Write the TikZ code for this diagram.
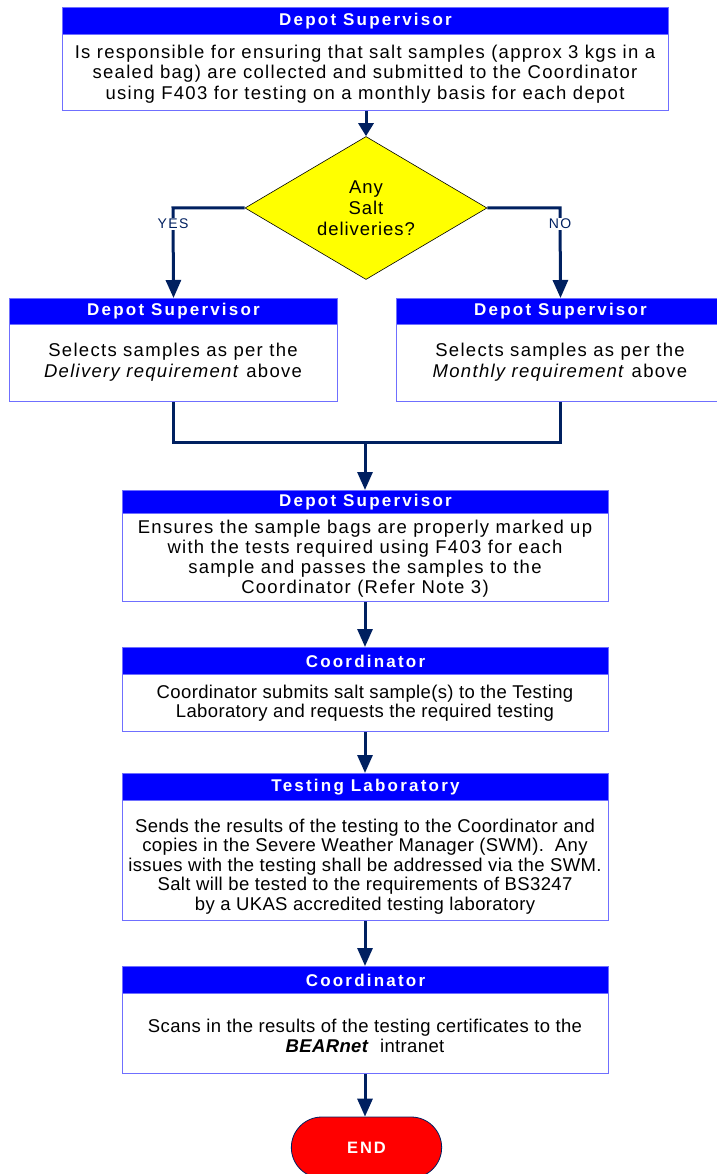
\documentclass[tikz,border=0pt]{standalone}
\usepackage{fontspec}
\setmainfont{Liberation Sans}
\usetikzlibrary{arrows.meta,shapes.geometric,shapes.misc}
\definecolor{hdrblue}{HTML}{0000FF}
\definecolor{bordblue}{HTML}{6F6FFF}
\definecolor{navy}{HTML}{002060}
\definecolor{endred}{HTML}{FF0000}
\definecolor{dmdyellow}{HTML}{FFFF00}
\newcommand{\widefont}{\fontsize{18.5}{20.5}\selectfont\addfontfeatures{LetterSpace=7}}
\newcommand{\bodyfont}{\fontsize{18.5}{19.5}\selectfont\addfontfeatures{LetterSpace=2}}
\newcommand{\hdrfont}{\fontsize{17}{19}\selectfont\bfseries\addfontfeatures{LetterSpace=13}}
\begin{document}
\begin{tikzpicture}[x=1pt,y=-1pt,
 hdr/.style={draw=bordblue, fill=hdrblue, text=white, font=\hdrfont, anchor=north west, inner sep=0pt, line width=1pt},
 body/.style={draw=bordblue, fill=white, anchor=north west, inner sep=0pt, line width=1pt},
 txt/.style={align=center, inner sep=0pt},
 flow/.style={draw=navy, line width=3pt, -{Triangle[length=18pt,width=15pt]}},
 link/.style={draw=navy, line width=3pt},
 lbl/.style={text=navy, fill=white, inner sep=1pt, font=\fontsize{14}{15}\selectfont\addfontfeatures{LetterSpace=10}}]
\useasboundingbox (0,0) rectangle (716,1174);

% Box 1
\node[hdr, minimum width=606pt, minimum height=27pt] (h1) at (62,7) {Depot Supervisor};
\node[body, minimum width=606pt, minimum height=76pt] (b1) at (62,34) {};
\node[txt, font=\widefont] (t1) at (365,74)
 {Is responsible for ensuring that salt samples (approx 3 kgs in a\\
  sealed bag) are collected and submitted to the Coordinator\\
  using F403 for testing on a monthly basis for each depot};

% Decision
\node[diamond, draw=black, fill=dmdyellow, line width=0.6pt, shape aspect=1.7, inner sep=0pt,
  minimum width=242pt, minimum height=143pt, align=center,
  font=\fontsize{18.5}{21}\selectfont\addfontfeatures{LetterSpace=5}] (d) at (366,208)
 {Any\\Salt\\deliveries?};

% Box 2a / 2b
\node[hdr, minimum width=328pt, minimum height=26pt] (h2a) at (9,298) {Depot Supervisor};
\node[body, minimum width=328pt, minimum height=77pt] (b2a) at (9,324) {};
\node[txt, font=\fontsize{18.5}{21}\selectfont\addfontfeatures{LetterSpace=7}] (t2a) at (173,362.5)
 {Selects samples as per the\\ \textit{Delivery requirement} above};
\node[hdr, minimum width=328pt, minimum height=26pt] (h2b) at (396,298) {Depot Supervisor};
\node[body, minimum width=328pt, minimum height=77pt] (b2b) at (396,324) {};
\node[txt, font=\fontsize{18.5}{21}\selectfont\addfontfeatures{LetterSpace=7}] (t2b) at (560,362.5)
 {Selects samples as per the\\ \textit{Monthly requirement} above};

% Box 3
\node[hdr, minimum width=486pt, minimum height=23pt] (h3) at (122,490) {Depot Supervisor};
\node[body, minimum width=486pt, minimum height=88pt] (b3) at (122,513) {};
\node[txt, font=\fontsize{18.5}{20}\selectfont\addfontfeatures{LetterSpace=7}] (t3) at (365,558.5)
 {Ensures the sample bags are properly marked up\\
  with the tests required using F403 for each\\
  sample and passes the samples to the\\
  Coordinator (Refer Note 3)};

% Box 4
\node[hdr, minimum width=486pt, minimum height=27pt] (h4) at (122,647) {Coordinator};
\node[body, minimum width=486pt, minimum height=57pt] (b4) at (122,674) {};
\node[txt, font=\bodyfont] (t4) at (365,703)
 {Coordinator submits salt sample(s) to the Testing\\
  Laboratory and requests the required testing};

% Box 5
\node[hdr, minimum width=486pt, minimum height=27pt] (h5) at (122,773) {Testing Laboratory};
\node[body, minimum width=486pt, minimum height=120pt] (b5) at (122,800) {};
\node[txt, font=\bodyfont] (t5) at (365,866.5)
 {Sends the results of the testing to the Coordinator and\\
  copies in the Severe Weather Manager (SWM).\ \ Any\\
  issues with the testing shall be addressed via the SWM.\\
  Salt will be tested to the requirements of BS3247\\
  by a UKAS accredited testing laboratory};

% Box 6
\node[hdr, minimum width=486pt, minimum height=27pt] (h6) at (122,966) {Coordinator};
\node[body, minimum width=486pt, minimum height=80pt] (b6) at (122,993) {};
\node[txt, font=\bodyfont] (t6) at (365,1036)
 {Scans in the results of the testing certificates to the\\
  \textbf{\textit{BEARnet}}\ \ intranet};

% End
\node[rounded rectangle, draw=navy, fill=endred, line width=0.8pt, minimum width=157pt, minimum height=61pt,
  text=white, font=\fontsize{16.5}{18}\selectfont\bfseries\addfontfeatures{LetterSpace=12}] (e) at (366.5,1147.5) {END};

% Connectors
\draw[navy, line width=3pt, -{Triangle[length=13pt,width=15pt]}] (b1.south -| d.north) -- (d.north);
\coordinate (yx) at (173,208);
\coordinate (nx) at (560,208);
\draw[flow] (d.west) -- (yx) -- (h2a.north);
\draw[flow] (d.east) -- (nx) -- (h2b.north);
\node[lbl] (yes) at (173,224) {YES};
\node[lbl] (no) at (560,224) {NO};
\coordinate (m) at (365,442);
\draw[link] (b2a.south) |- (m) -| (b2b.south);
\draw[flow] (m) -- (m |- h3.north);
\draw[flow] (b3.south -| m) -- (h4.north -| m);
\draw[flow] (b4.south -| m) -- (h5.north -| m);
\draw[flow] (b5.south -| m) -- (h6.north -| m);
\draw[flow] (b6.south -| m) -- (e.north -| m);
\end{tikzpicture}
\end{document}
